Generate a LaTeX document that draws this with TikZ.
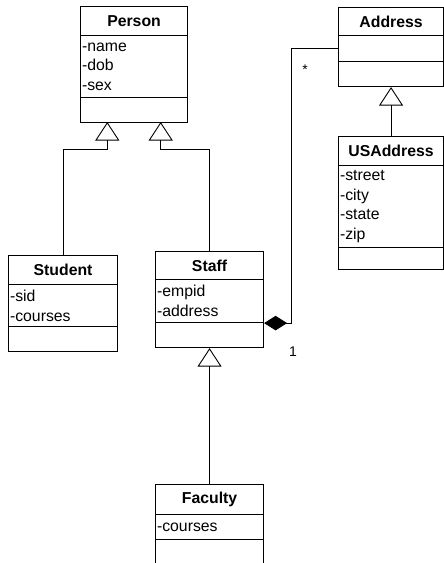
\documentclass[tikz,border=0pt]{standalone}
\usepackage{fontspec}
\setmainfont{Liberation Sans}
\usetikzlibrary{arrows.meta,calc}
\tikzset{
  hdr/.style={draw, line width=1.1pt, anchor=north west, inner sep=0pt,
    font=\bfseries\fontsize{15.8}{20}\selectfont},
  attr/.style={draw, line width=1.1pt, anchor=north west, inner xsep=1.5pt, inner ysep=0pt,
    align=left, font=\fontsize{15.8}{19.6}\selectfont},
  conn/.style={line width=0.9pt},
  inh/.style={conn, -{Triangle[length=18.5pt,width=24pt,fill=white,line width=0.9pt]}},
  comp/.style={conn, -{Diamond[length=23pt,width=14.5pt,fill=black]}},
  lbl/.style={inner sep=0pt, font=\fontsize{14}{16}\selectfont}
}
\begin{document}
\begin{tikzpicture}[x=1pt,y=-1pt]
\useasboundingbox (0,0) rectangle (444,563);
\clip (0,0) rectangle (444,563);
% Person
\node[hdr, minimum width=107, minimum height=29] (per-h) at (80,6) {Person};
\node[attr, minimum height=62, text width=104] (per-a) at (80,35) {-name\\-dob\\-sex};
\node[hdr, minimum width=107, minimum height=25] (per-m) at (80,97) {};
% Student
\node[hdr, minimum width=109, minimum height=29] (stu-h) at (8,255) {Student};
\node[attr, minimum height=42, text width=106] (stu-a) at (8,284) {-sid\\-courses};
\node[hdr, minimum width=109, minimum height=25] (stu-m) at (8,326) {};
% Staff
\node[hdr, minimum width=108, minimum height=28] (stf-h) at (155,251) {Staff};
\node[attr, minimum height=43, text width=105] (stf-a) at (155,279) {-empid\\-address};
\node[hdr, minimum width=108, minimum height=25] (stf-m) at (155,322) {};
% Faculty
\node[hdr, minimum width=108, minimum height=30] (fac-h) at (155,484) {Faculty};
\node[attr, minimum height=25, text width=105] (fac-a) at (155,514) {-courses};
\node[hdr, minimum width=108, minimum height=35] (fac-m) at (155,539) {};
% Address
\node[hdr, minimum width=105, minimum height=28] (adr-h) at (338,7) {Address};
\node[attr, minimum height=26, text width=102] (adr-a) at (338,35) {};
\node[hdr, minimum width=105, minimum height=25] (adr-m) at (338,61) {};
% USAddress
\node[hdr, minimum width=105, minimum height=29] (usa-h) at (338,136) {USAddress};
\node[attr, minimum height=82, text width=102] (usa-a) at (338,165) {-street\\-city\\-state\\-zip};
\node[hdr, minimum width=105, minimum height=22] (usa-m) at (338,247) {};
% apex points of generalisation arrows
\coordinate (ptl) at (107.3,122);
\coordinate (ptr) at (160.7,122);
% connectors
\draw[inh] (stu-h.north) |- ($(ptl)+(0,27)$) -- (ptl);
\draw[inh] (stf-h.north) |- ($(ptr)+(0,27)$) -- (ptr);
\draw[inh] (fac-h.north) -- (stf-m.south);
\draw[inh] (usa-h.north) -- (adr-m.south);
\draw[comp] (adr-a.west) -| ($(stf-a.south east)+(27,0)$) -- (stf-a.south east);
% multiplicities
\node[lbl] (m-star) at (305,70) {*};
\node[lbl] (m-one) at (293,352) {1};
\end{tikzpicture}
\end{document}
